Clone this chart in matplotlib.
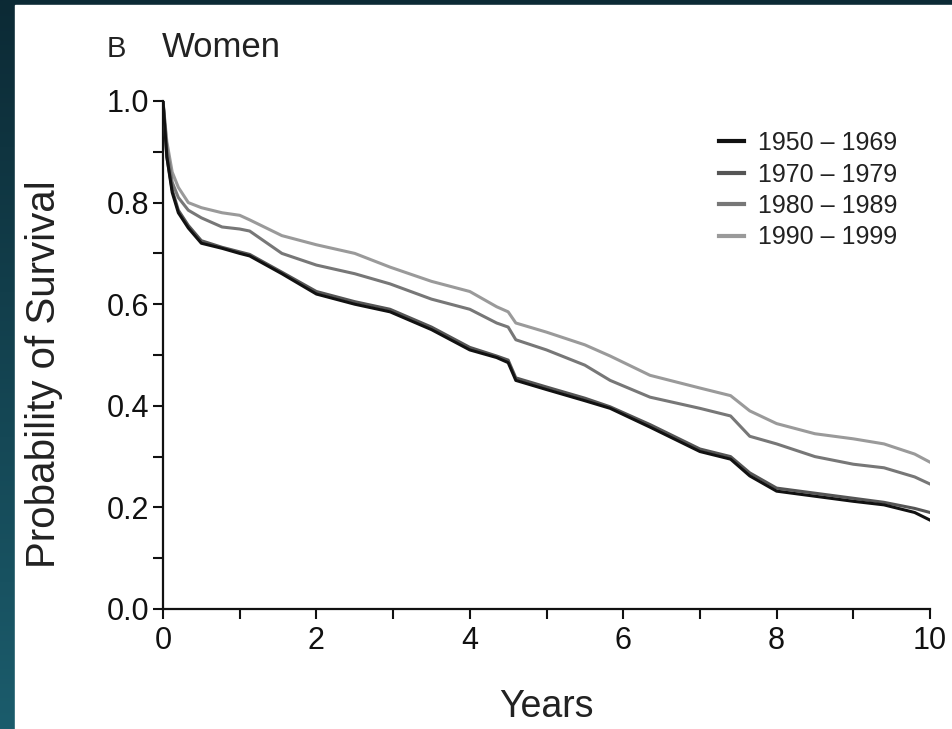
import numpy as np
import matplotlib
matplotlib.use("Agg")
import matplotlib.pyplot as plt
from matplotlib.patches import Rectangle
from matplotlib.colors import LinearSegmentedColormap

plt.rcParams['font.family'] = ['Liberation Sans', 'DejaVu Sans']

# --- data ---
years = [0, 0.05, 0.12, 0.2, 0.33, 0.5, 0.77, 1.0, 1.13, 1.55, 2.0, 2.5, 2.96, 3.5,
         4.0, 4.35, 4.5, 4.6, 5.0, 5.5, 5.83, 6.35, 7.0, 7.4, 7.65, 8.0, 8.5, 9.0,
         9.4, 9.8, 10.0]
surv_1950_1969 = [1.0, 0.89, 0.82, 0.78, 0.75, 0.72, 0.71, 0.70, 0.695, 0.66, 0.62, 0.60,
                  0.585, 0.55, 0.51, 0.495, 0.485, 0.45, 0.432, 0.41, 0.395, 0.358, 0.31,
                  0.295, 0.262, 0.232, 0.222, 0.212, 0.205, 0.19, 0.175]
surv_1970_1979 = [1.0, 0.89, 0.825, 0.785, 0.755, 0.725, 0.712, 0.703, 0.698, 0.663, 0.625,
                  0.605, 0.59, 0.555, 0.515, 0.498, 0.49, 0.455, 0.437, 0.415, 0.398, 0.363,
                  0.315, 0.30, 0.268, 0.238, 0.228, 0.218, 0.21, 0.198, 0.19]
surv_1980_1989 = [1.0, 0.91, 0.84, 0.81, 0.785, 0.77, 0.752, 0.748, 0.744, 0.70, 0.677, 0.66,
                  0.64, 0.61, 0.59, 0.563, 0.555, 0.53, 0.51, 0.48, 0.45, 0.417, 0.395, 0.38,
                  0.34, 0.325, 0.30, 0.285, 0.278, 0.26, 0.246]
surv_1990_1999 = [1.0, 0.92, 0.86, 0.83, 0.80, 0.79, 0.78, 0.775, 0.766, 0.735, 0.717, 0.70,
                  0.673, 0.645, 0.625, 0.595, 0.585, 0.563, 0.545, 0.52, 0.498, 0.46, 0.435,
                  0.42, 0.39, 0.365, 0.345, 0.335, 0.325, 0.305, 0.289]
labels = ["1950 \u2013 1969", "1970 \u2013 1979", "1980 \u2013 1989", "1990 \u2013 1999"]
colors = ["#111111", "#555555", "#777777", "#9a9a9a"]

W, H = 953, 729
fig = plt.figure(figsize=(W / 100, H / 100), dpi=100)

# dark teal frame (gradient: dark at top, lighter teal at bottom) with white panel
bg = fig.add_axes([0, 0, 1, 1], zorder=-10)
grad = np.linspace(0, 1, 256).reshape(-1, 1)
cmap = LinearSegmentedColormap.from_list("teal", ["#0c2a35", "#1b5c6c"])
bg.imshow(grad, aspect='auto', cmap=cmap, extent=[0, 1, 0, 1], origin='upper')
bg.add_patch(Rectangle((15 / W, 0), 1 - 15 / W, 1 - 5 / H, color="white"))
bg.set_xlim(0, 1)
bg.set_ylim(0, 1)
bg.axis('off')

ax = fig.add_axes([163 / W, 1 - 609 / H, (930 - 163) / W, (609 - 101) / H])
ax.set_facecolor('none')

series = [surv_1950_1969, surv_1970_1979, surv_1980_1989, surv_1990_1999]
handles = {}
for i in [3, 2, 1, 0]:
    ln, = ax.plot(years, series[i], color=colors[i], lw=2.2, label=labels[i],
                  zorder=3 + (3 - i))
    handles[i] = ln

ax.set_xlim(0, 10)
ax.set_ylim(0, 1)
for s in ['top', 'right']:
    ax.spines[s].set_visible(False)
for s in ['left', 'bottom']:
    ax.spines[s].set_linewidth(1.6)
    ax.spines[s].set_color('#111111')

ax.set_xticks(np.arange(0, 11, 2))
ax.set_xticks(np.arange(0, 11, 1), minor=True)
ax.set_yticks(np.arange(0, 1.01, 0.2))
ax.set_yticks(np.arange(0, 1.01, 0.1), minor=True)
ax.set_yticklabels([f"{v:.1f}" for v in np.arange(0, 1.01, 0.2)])
ax.tick_params(which='both', direction='out', length=7, width=1.5, color='#111111')
ax.tick_params(axis='both', labelsize=22, colors='#111111')
ax.tick_params(axis='x', pad=5)
ax.tick_params(axis='y', pad=3)

ax.set_xlabel("Years", fontsize=27, color='#222222', labelpad=24)
ax.set_ylabel("Probability of Survival", fontsize=29, color='#222222')
ax.yaxis.set_label_coords((63 - 163) / 767, (609 - 374) / 508)

leg = ax.legend([handles[i] for i in range(4)], labels, loc='upper left',
                bbox_to_anchor=((719 - 163) / 767, (609 - 131) / 508),
                frameon=False, fontsize=18, handlelength=1.0, handletextpad=0.55,
                labelspacing=0.3, borderpad=0, borderaxespad=0)
for t in leg.get_texts():
    t.set_color('#222222')
for l in leg.get_lines():
    l.set_linewidth(3)

fig.text(107 / W, 1 - 57 / H, "B", fontsize=21, color='#222222', va='baseline')
fig.text(162 / W, 1 - 57 / H, "Women", fontsize=25, color='#222222', va='baseline')

fig.savefig("out.png", dpi=100)
